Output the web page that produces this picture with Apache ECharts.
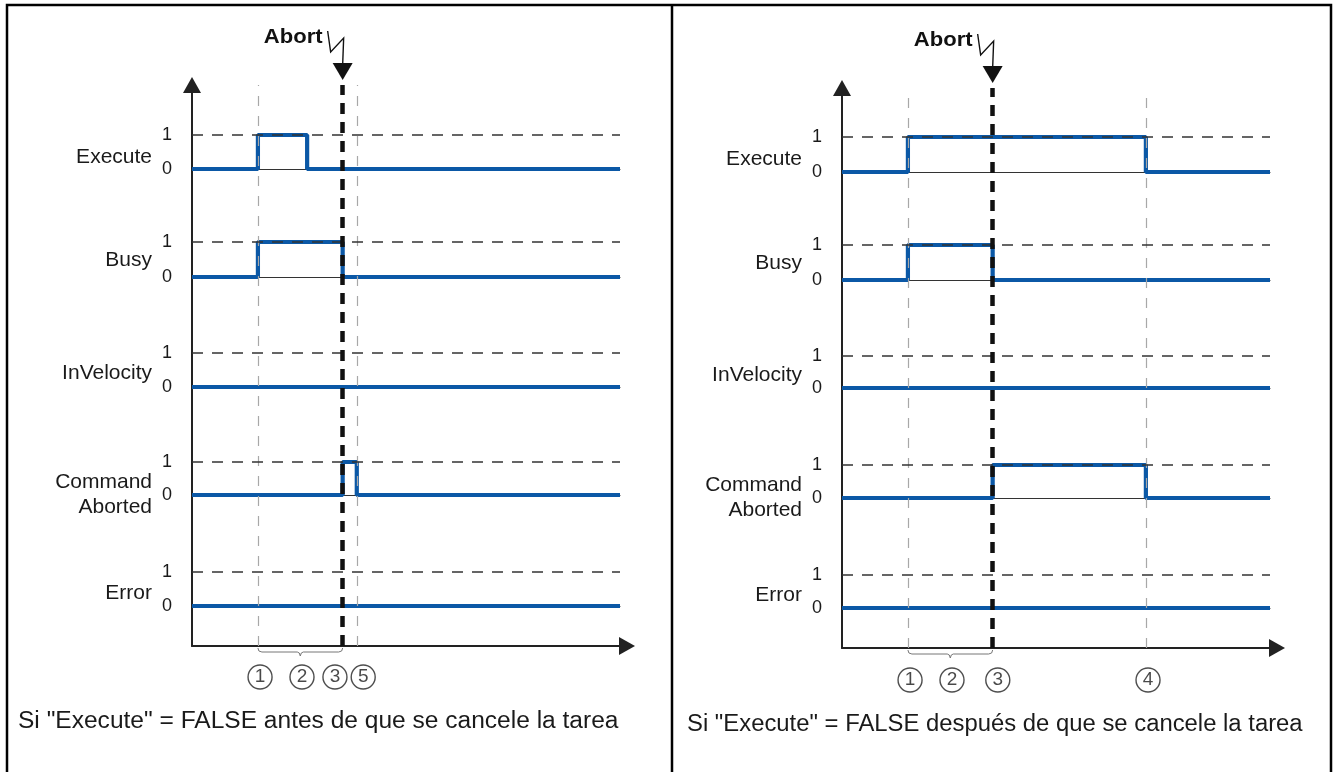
<!DOCTYPE html>
<html><head><meta charset="utf-8">
<script src="https://cdn.jsdelivr.net/npm/echarts@6/dist/echarts.min.js"></script>
<style>html,body{margin:0;padding:0;background:#fff}#c{width:1333px;height:772px}</style>
</head><body><div id="c"></div>
<script>
// ---------- data ----------
const signalNames = ['Execute', 'Busy', 'InVelocity', 'Command\nAborted', 'Error'];
const levelTicks = ['0', '1'];
const abortLabel = 'Abort';

// left panel: Execute = FALSE before abort
const leftExecute = [[0, 0], [15.4, 1], [26.9, 0], [100, 0]];
const leftBusy = [[0, 0], [15.4, 1], [35.2, 0], [100, 0]];
const leftInVelocity = [[0, 0], [100, 0]];
const leftCommandAborted = [[0, 0], [35.2, 1], [38.5, 0], [100, 0]];
const leftError = [[0, 0], [100, 0]];
const leftEventTimes = [15.4, 38.5];
const leftAbortTime = 35.2;
const leftBrace = [15.4, 35.2];
const leftMarkers = [[15.9, '1'], [25.7, '2'], [33.4, '3'], [40.0, '5']];
const leftCaption = 'Si "Execute" = FALSE antes de que se cancele la tarea';

// right panel: Execute = FALSE after abort
const rightExecute = [[0, 0], [15.4, 1], [71.0, 0], [100, 0]];
const rightBusy = [[0, 0], [15.4, 1], [35.2, 0], [100, 0]];
const rightInVelocity = [[0, 0], [100, 0]];
const rightCommandAborted = [[0, 0], [35.2, 1], [71.0, 0], [100, 0]];
const rightError = [[0, 0], [100, 0]];
const rightEventTimes = [15.4, 71.0];
const rightAbortTime = 35.2;
const rightBrace = [15.4, 35.2];
const rightMarkers = [[15.9, '1'], [25.7, '2'], [36.4, '3'], [71.5, '4']];
const rightCaption = 'Si "Execute" = FALSE después de que se cancele la tarea';

// ---------- layout / style ----------
const FONT = '"Liberation Sans", Arial, sans-serif';
const BLUE = '#0b58a6';
const TXT = '#1a1a1a';
const PX_PER_UNIT = 4.28;
const SIG_WIDTH = 428;
const AXIS_WIDTH = 435;
const nameOffsetY = [5, 1, 3, 16, 4];

const panels = [
  { x0: 192, tops: [135, 242, 353, 462, 572], bottoms: [169, 277, 387, 495, 606],
    axisTop: 85, axisBottom: 646, markerTop: 666, captionX: 18, captionY: 722, captionScale: 1.044,
    signals: [leftExecute, leftBusy, leftInVelocity, leftCommandAborted, leftError],
    events: leftEventTimes, abort: leftAbortTime, brace: leftBrace, markers: leftMarkers, caption: leftCaption },
  { x0: 842, tops: [137, 245, 356, 465, 575], bottoms: [172, 280, 388, 498, 608],
    axisTop: 88, axisBottom: 648, markerTop: 669, captionX: 687, captionY: 725, captionScale: 1.015,
    signals: [rightExecute, rightBusy, rightInVelocity, rightCommandAborted, rightError],
    events: rightEventTimes, abort: rightAbortTime, brace: rightBrace, markers: rightMarkers, caption: rightCaption }
];

const grid = [], xAxis = [], yAxis = [], series = [];
const hidden = { axisTick: { show: false }, axisLabel: { show: false }, splitLine: { show: false } };

panels.forEach((p, pi) => {
  const base = grid.length;
  p.base = base;
  p.sigGrids = [];
  grid.push({ left: p.x0, top: p.axisTop, width: AXIS_WIDTH, height: p.axisBottom - p.axisTop });
  xAxis.push(Object.assign({ gridIndex: base, type: 'value', min: 0, max: AXIS_WIDTH / PX_PER_UNIT,
    axisLine: { show: true, symbol: ['none', 'triangle'], symbolSize: [18, 16], lineStyle: { color: '#222', width: 2 } } }, hidden));
  yAxis.push(Object.assign({ gridIndex: base, type: 'value', min: 0, max: 1,
    axisLine: { show: true, symbol: ['none', 'triangle'], symbolSize: [18, 16], lineStyle: { color: '#222', width: 2 } } }, hidden));

  series.push({ type: 'line', xAxisIndex: base, yAxisIndex: base, data: [], z: 1, animation: false,
    markLine: { silent: true, symbol: ['none', 'none'], label: { show: false }, animation: false,
      data: p.events.map(t => ({ xAxis: t })),
      lineStyle: { color: '#a8a8a8', width: 1.2, type: [10, 10] } } });

  p.signals.forEach((data, si) => {
    const gi = grid.length;
    p.sigGrids.push(gi);
    grid.push({ left: p.x0, top: p.tops[si], width: SIG_WIDTH, height: p.bottoms[si] - p.tops[si] });
    xAxis.push(Object.assign({ gridIndex: gi, type: 'value', min: 0, max: SIG_WIDTH / PX_PER_UNIT,
      axisLine: { show: true, lineStyle: { color: '#333', width: 1 } } }, hidden));
    yAxis.push({ gridIndex: gi, type: 'value', min: 0, max: 1, interval: 1,
      axisLine: { show: false }, axisTick: { show: false },
      axisLabel: { show: true, margin: 20, fontFamily: FONT, fontSize: 18, color: TXT,
        formatter: v => levelTicks[v] },
      splitLine: { show: false } });
    series.push({ type: 'line', xAxisIndex: gi, yAxisIndex: gi, data: [], z: 2, animation: false,
      markLine: { silent: true, symbol: ['none', 'none'], label: { show: false }, animation: false,
        data: [{ yAxis: 1 }], lineStyle: { color: '#333', width: 1.5, type: [11, 9] } } });
    series.push({ type: 'line', xAxisIndex: gi, yAxisIndex: gi, step: 'end', data: data,
      symbol: 'none', showSymbol: false, z: 3, animation: false, clip: false,
      lineStyle: { color: BLUE, width: 4.2 } });
  });

  const mi = grid.length;
  grid.push({ left: p.x0, top: p.markerTop, width: SIG_WIDTH, height: 22 });
  xAxis.push({ gridIndex: mi, type: 'value', min: 0, max: SIG_WIDTH / PX_PER_UNIT, show: false });
  yAxis.push({ gridIndex: mi, type: 'value', min: 0, max: 1, show: false });
  series.push({ type: 'scatter', xAxisIndex: mi, yAxisIndex: mi, animation: false, z: 4,
    data: p.markers.map(m => [m[0], 0.5, m[1]]),
    symbol: 'circle', symbolSize: 24,
    itemStyle: { color: '#fff', borderColor: '#222', borderWidth: 1.4 },
    label: { show: true, position: 'inside', formatter: d => d.value[2], fontFamily: FONT, fontSize: 19, color: TXT } });

  series.push({ type: 'line', xAxisIndex: base, yAxisIndex: base, data: [], z: 6, animation: false,
    markLine: { silent: true, symbol: ['none', 'none'], label: { show: false }, animation: false,
      data: [{ xAxis: p.abort }], lineStyle: { color: '#111', width: 4.5, type: [11, 8] } } });
});

const chart = echarts.init(document.getElementById('c'), null, { renderer: 'canvas' });
chart.setOption({ animation: false, backgroundColor: '#fff', grid, xAxis, yAxis, series });

const graphic = [];
const frameStyle = { stroke: '#000', lineWidth: 2.5, fill: null };
graphic.push({ type: 'polyline', shape: { points: [[7, 780], [7, 5], [1331, 5], [1331, 780]] }, style: frameStyle, z: 10 });
graphic.push({ type: 'polyline', shape: { points: [[672, 5], [672, 780]] }, style: frameStyle, z: 10 });

panels.forEach(p => {
  // signal names, placed at the middle of each signal's 0..1 band
  p.sigGrids.forEach((gi, si) => {
    const [gx, gy] = chart.convertToPixel({ xAxisIndex: gi, yAxisIndex: gi }, [0, 0.5]);
    graphic.push({ type: 'text', x: gx - 40, y: gy + nameOffsetY[si], z: 10,
      style: { text: signalNames[si], font: '21px ' + FONT, fill: TXT, align: 'right', verticalAlign: 'middle', lineHeight: 25 } });
  });
  const [ax, ay] = chart.convertToPixel({ xAxisIndex: p.base, yAxisIndex: p.base }, [p.abort, 1]);
  const top = ay;
  graphic.push({ type: 'text', x: ax - 20, y: top - 48, z: 10, scaleX: 1.05,
    style: { text: abortLabel, font: 'bold 21px ' + FONT, fill: '#111', align: 'right', verticalAlign: 'middle' } });
  graphic.push({ type: 'polyline', z: 10,
    shape: { points: [[ax - 15, top - 54], [ax - 12, top - 33], [ax + 1, top - 47], [ax, top - 20]] },
    style: { stroke: '#111', lineWidth: 1.4, fill: null } });
  graphic.push({ type: 'polygon', z: 10,
    shape: { points: [[ax - 10, top - 22], [ax + 10, top - 22], [ax, top - 5]] },
    style: { fill: '#111' } });
  const [bx1, by] = chart.convertToPixel({ xAxisIndex: p.base, yAxisIndex: p.base }, [p.brace[0], 0]);
  const [bx2] = chart.convertToPixel({ xAxisIndex: p.base, yAxisIndex: p.base }, [p.brace[1], 0]);
  const mid = (bx1 + bx2) / 2, y0 = by + 2, y1 = by + 6, y2 = by + 10;
  graphic.push({ type: 'polyline', z: 10,
    shape: { points: [[bx1, y0], [bx1 + 1, y1 - 1], [bx1 + 4, y1], [mid - 3, y1], [mid - 1, y1 + 1], [mid, y2],
      [mid + 1, y1 + 1], [mid + 3, y1], [bx2 - 4, y1], [bx2 - 1, y1 - 1], [bx2, y0]] },
    style: { stroke: '#777', lineWidth: 1, fill: null } });
  graphic.push({ type: 'text', x: p.captionX, y: p.captionY, z: 10, scaleX: p.captionScale,
    style: { text: p.caption, font: '23.5px ' + FONT, fill: TXT, align: 'left', verticalAlign: 'middle' } });
});
chart.setOption({ graphic });
</script></body></html>
